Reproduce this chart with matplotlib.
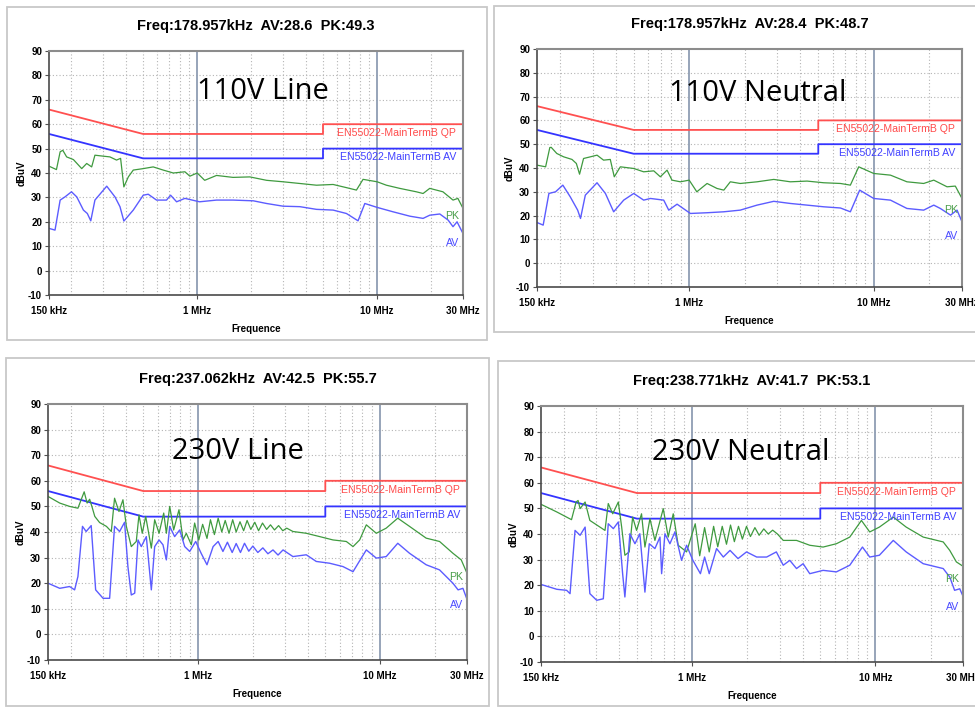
import matplotlib.pyplot as plt
from matplotlib.patches import Rectangle

# limit lines (EN55022 class B, mains terminal), MHz / dBuV
qp_f = [0.15, 0.5, 5, 5, 30]
qp_v = [66, 56, 56, 60, 60]
avlim_f = [0.15, 0.5, 5, 5, 30]
avlim_v = [56, 46, 46, 50, 50]

titles = ["Freq:178.957kHz  AV:28.6  PK:49.3",
          "Freq:178.957kHz  AV:28.4  PK:48.7",
          "Freq:237.062kHz  AV:42.5  PK:55.7",
          "Freq:238.771kHz  AV:41.7  PK:53.1"]
names = ["110V Line", "110V Neutral", "230V Line", "230V Neutral"]

# 110V Line
p1_pk_f = [0.15, 0.165, 0.173, 0.179, 0.188, 0.205, 0.228, 0.243, 0.259, 0.270, 0.300, 0.327,
           0.356, 0.375, 0.391, 0.414, 0.441, 0.501, 0.569, 0.647, 0.736, 0.854, 0.910, 1.0,
           1.10, 1.28, 1.58, 1.96, 2.43, 3.00, 3.72, 4.60, 5.69, 6.75, 7.67, 8.35, 10.0,
           11.25, 13.35, 16.5, 18.0, 19.6, 23.2, 26.4, 28.1, 30.0]
p1_pk_v = [42.8, 41.4, 48.7, 49.3, 46.6, 45.5, 41.8, 43.9, 42.5, 47.3, 46.9, 46.6,
           45.3, 46.0, 34.3, 38.4, 41.2, 41.8, 42.5, 41.2, 40.0, 40.5, 38.7, 40.0,
           37.0, 39.0, 38.2, 38.4, 37.0, 36.4, 35.7, 35.0, 35.3, 34.0, 33.0, 37.4, 36.4,
           35.0, 33.7, 32.3, 31.6, 33.7, 32.3, 28.9, 29.6, 25.5]
p1_av_f = [0.15, 0.162, 0.173, 0.184, 0.200, 0.214, 0.233, 0.245, 0.256, 0.270, 0.314, 0.349,
           0.372, 0.391, 0.441, 0.501, 0.534, 0.594, 0.675, 0.711, 0.768, 0.854, 1.03, 1.28,
           1.58, 2.05, 2.43, 3.00, 3.72, 4.60, 5.69, 6.75, 7.83, 8.54, 10.0, 12.25, 15.2,
           18.0, 19.6, 22.3, 24.8, 26.4, 27.8, 30.0]
p1_av_v = [17.3, 16.6, 28.9, 30.2, 32.3, 30.2, 24.8, 23.4, 20.4, 28.9, 34.6, 30.2,
           26.2, 20.3, 24.8, 30.9, 31.3, 28.9, 28.9, 30.9, 28.2, 29.6, 28.2, 28.9,
           28.9, 28.6, 27.5, 26.4, 26.2, 25.1, 24.8, 23.4, 20.4, 27.5, 25.9, 24.1, 22.3,
           21.4, 22.7, 23.2, 20.7, 18.0, 20.0, 15.2]

# 110V Neutral
p2_pk_f = [0.15, 0.167, 0.176, 0.179, 0.192, 0.209, 0.232, 0.245, 0.255, 0.268, 0.292, 0.317,
           0.344, 0.374, 0.393, 0.424, 0.501, 0.567, 0.643, 0.698, 0.759, 0.807, 0.896, 1.0,
           1.10, 1.25, 1.415, 1.54, 1.67, 1.89, 2.33, 2.87, 3.53, 4.35, 5.35, 6.59, 7.46,
           8.28, 9.98, 12.3, 15.1, 18.6, 21.1, 24.9, 27.6, 30.0]
p2_pk_v = [41.2, 40.5, 48.6, 48.7, 46.1, 44.7, 43.6, 41.9, 37.4, 44.0, 44.7, 45.4,
           43.3, 43.6, 36.3, 40.5, 39.8, 38.4, 38.8, 36.3, 39.1, 34.9, 34.2, 34.9,
           30.0, 33.5, 31.4, 30.7, 34.2, 33.5, 34.2, 35.2, 34.2, 34.5, 33.8, 33.5, 32.8,
           40.5, 37.7, 37.0, 34.2, 33.5, 34.9, 32.1, 32.4, 27.2]
p2_av_f = [0.15, 0.162, 0.174, 0.189, 0.207, 0.227, 0.249, 0.258, 0.274, 0.317, 0.352, 0.390,
           0.442, 0.501, 0.567, 0.617, 0.728, 0.775, 0.860, 1.015, 1.25, 1.54, 1.89, 2.33,
           2.87, 3.53, 4.35, 5.35, 6.59, 7.46, 8.38, 9.98, 12.3, 15.1, 18.6, 21.1, 22.9,
           26.0, 28.2, 30.0]
p2_av_v = [17.1, 16.0, 29.3, 30.0, 32.8, 27.9, 22.3, 18.8, 28.6, 33.8, 29.3, 21.6,
           26.5, 29.3, 26.5, 27.2, 26.5, 22.3, 24.8, 20.9, 21.2, 21.6, 22.3, 24.4,
           26.0, 25.1, 24.4, 23.7, 23.2, 21.6, 30.7, 27.2, 26.5, 23.0, 22.3, 24.4, 23.0,
           20.2, 22.3, 17.4]

# 230V Line
p3_pk_f = [0.15, 0.174, 0.197, 0.219, 0.237, 0.246, 0.254, 0.263, 0.271, 0.288, 0.314, 0.334,
           0.348, 0.368, 0.387, 0.404, 0.430, 0.458, 0.474, 0.494, 0.516, 0.554, 0.578, 0.611,
           0.648, 0.670, 0.699, 0.735, 0.786, 0.827, 0.862, 0.919, 0.958, 1.01, 1.06, 1.12,
           1.17, 1.23, 1.29, 1.35, 1.41, 1.48, 1.55, 1.62, 1.70, 1.78, 1.86, 1.95, 2.05,
           2.15, 2.26, 2.38, 2.50, 2.63, 2.77, 2.92, 3.07, 3.32, 3.93, 4.66, 5.51, 6.52,
           7.10, 7.72, 8.40, 9.53, 10.8, 12.5, 14.5, 17.9, 21.2, 25.1, 27.9, 30.0]
p3_pk_v = [53.9, 51.3, 50.0, 49.3, 55.7, 51.3, 52.8, 49.3, 46.1, 43.7, 42.2, 40.2,
           53.2, 48.0, 52.6, 42.2, 34.3, 36.3, 46.7, 39.5, 46.1, 33.7, 44.8, 39.5,
           47.4, 39.5, 50.0, 40.8, 48.7, 36.9, 39.5, 35.0, 43.5, 36.9, 43.0, 37.5,
           44.8, 39.0, 45.4, 40.0, 44.5, 39.5, 44.8, 40.0, 44.0, 40.5, 44.5, 41.0, 43.8,
           40.5, 43.5, 41.0, 42.8, 40.8, 42.5, 40.5, 41.5, 40.2, 39.5, 38.2, 36.9, 36.3,
           34.3, 36.9, 42.8, 39.5, 41.5, 45.4, 42.2, 37.6, 36.3, 31.7, 29.1, 23.9]
p3_av_f = [0.15, 0.174, 0.197, 0.210, 0.219, 0.232, 0.243, 0.259, 0.274, 0.301, 0.327, 0.348,
           0.371, 0.395, 0.412, 0.430, 0.449, 0.468, 0.488, 0.520, 0.554, 0.578, 0.611, 0.642,
           0.670, 0.699, 0.744, 0.793, 0.845, 0.900, 0.971, 1.04, 1.12, 1.21, 1.29, 1.37,
           1.45, 1.54, 1.62, 1.71, 1.80, 1.90, 2.00, 2.13, 2.27, 2.42, 2.58, 2.75, 2.93,
           3.32, 3.93, 4.46, 5.28, 6.25, 7.10, 7.88, 8.40, 9.53, 10.8, 12.5, 14.5, 17.9,
           21.2, 25.1, 26.8, 28.5, 30.0]
p3_av_v = [20.0, 18.0, 18.7, 17.4, 22.6, 42.2, 40.2, 42.5, 17.4, 14.1, 14.1, 42.2,
           40.2, 43.8, 26.5, 15.4, 16.1, 36.9, 34.3, 38.2, 17.4, 34.3, 36.9, 35.0,
           29.1, 42.2, 38.2, 40.8, 34.3, 32.4, 36.3, 31.7, 27.2, 34.3, 36.3, 32.4,
           36.0, 32.0, 35.5, 32.0, 35.6, 32.5, 34.5, 32.0, 33.8, 31.5, 33.0, 31.0, 33.0,
           30.4, 31.1, 28.5, 27.8, 26.5, 24.5, 29.8, 33.0, 29.8, 30.4, 35.6, 31.7, 27.2,
           25.2, 20.0, 17.4, 18.0, 13.7]

# 230V Neutral
p4_pk_f = [0.15, 0.183, 0.220, 0.233, 0.239, 0.245, 0.261, 0.277, 0.335, 0.349, 0.369, 0.396,
           0.413, 0.430, 0.454, 0.474, 0.498, 0.530, 0.553, 0.589, 0.627, 0.696, 0.741, 0.789,
           0.840, 0.933, 1.04, 1.10, 1.17, 1.24, 1.31, 1.38, 1.46, 1.54, 1.62, 1.70, 1.79,
           1.88, 1.98, 2.08, 2.20, 2.32, 2.46, 2.60, 2.75, 2.92, 3.14, 3.71, 4.38, 5.18,
           6.12, 7.24, 8.38, 9.30, 10.5, 12.5, 14.7, 18.2, 23.4, 25.4, 27.6, 30.0]
p4_pk_v = [51.6, 48.6, 45.6, 52.5, 53.1, 49.9, 52.5, 45.3, 41.4, 51.9, 47.9, 52.5,
           42.7, 31.7, 33.0, 46.6, 41.4, 47.9, 34.9, 46.0, 37.5, 49.9, 38.8, 47.9,
           35.6, 33.0, 44.0, 31.5, 42.5, 33.0, 43.0, 35.0, 43.0, 36.0, 43.5, 37.0, 43.0,
           38.0, 43.0, 39.0, 42.5, 39.5, 42.0, 40.0, 41.5, 40.0, 37.5, 37.5, 35.6, 34.9,
           36.2, 38.8, 45.3, 40.8, 42.7, 46.6, 42.7, 38.8, 36.9, 33.6, 29.1, 27.4]
p4_av_f = [0.15, 0.183, 0.207, 0.216, 0.230, 0.245, 0.261, 0.277, 0.302, 0.328, 0.349, 0.372,
           0.396, 0.418, 0.430, 0.458, 0.488, 0.519, 0.553, 0.584, 0.627, 0.668, 0.682, 0.711,
           0.757, 0.806, 0.876, 0.933, 1.01, 1.11, 1.17, 1.24, 1.36, 1.48, 1.61, 1.78, 1.98,
           2.25, 2.55, 2.88, 3.14, 3.41, 3.71, 4.03, 4.38, 5.18, 6.12, 7.24, 8.49, 9.30,
           10.5, 12.5, 14.7, 18.2, 23.4, 25.4, 27.0, 28.8, 30.0]
p4_av_v = [20.3, 18.4, 18.0, 16.7, 41.4, 39.5, 42.7, 16.7, 14.1, 14.7, 44.0, 42.1,
           44.7, 24.5, 15.4, 40.1, 36.2, 40.1, 17.3, 36.2, 34.3, 38.8, 24.5, 40.1,
           36.2, 40.8, 29.7, 35.6, 29.7, 24.5, 31.0, 24.5, 34.3, 31.0, 33.6, 30.4, 33.0,
           31.0, 31.0, 33.0, 27.8, 29.7, 26.5, 28.4, 24.5, 25.8, 25.2, 27.8, 34.9, 31.0,
           31.7, 37.5, 33.0, 28.4, 26.5, 23.2, 18.0, 18.6, 15.7]

pk_f = [p1_pk_f, p2_pk_f, p3_pk_f, p4_pk_f]
pk_v = [p1_pk_v, p2_pk_v, p3_pk_v, p4_pk_v]
av_f = [p1_av_f, p2_av_f, p3_av_f, p4_av_f]
av_v = [p1_av_v, p2_av_v, p3_av_v, p4_av_v]

W, H = 975, 707
fig = plt.figure(figsize=(W / 100, H / 100), dpi=100)
plt.rcParams['font.family'] = ['Liberation Sans', 'DejaVu Sans']
plt.rcParams['axes.unicode_minus'] = False

# pixel boxes: (left, top, right, bottom)
frames = [(7, 7, 487, 340), (494, 6, 976, 332), (6, 358, 489, 706), (498, 361, 976, 706)]
axboxes = [(49, 51, 463, 295), (537, 49, 962, 287), (48, 404, 467, 660), (541, 406, 963, 662)]
name_pos = [(0.517, 0.836), (0.52, 0.815), (0.453, 0.816), (0.474, 0.82)]

minor_f = [0.2, 0.3, 0.4, 0.5, 0.6, 0.7, 0.8, 0.9, 2, 3, 4, 5, 6, 7, 8, 9, 20]

for i in range(4):
    l, t, r, b = frames[i]
    fig.add_artist(Rectangle((l / W, 1 - b / H), (r - l) / W, (b - t) / H,
                             transform=fig.transFigure, fill=False,
                             edgecolor='#c8c8c8', lw=1.3))
    l, t, r, b = axboxes[i]
    ax = fig.add_axes([l / W, 1 - b / H, (r - l) / W, (b - t) / H])
    ax.set_xscale('log')
    ax.set_xlim(0.15, 30)
    ax.set_ylim(-10, 90)

    # grid
    for f in minor_f:
        ax.axvline(f, color='#b4b4b4', lw=0.8, ls=(0, (1, 2)), zorder=0)
    for y in range(0, 90, 10):
        ax.axhline(y, color='#b4b4b4', lw=0.8, ls=(0, (1, 2)), zorder=0)
    for f in [1, 10]:
        ax.axvline(f, color='#8f9db3', lw=1.3, zorder=0)

    ax.plot(qp_f, qp_v, color='#ff5050', lw=1.3)
    ax.plot(avlim_f, avlim_v, color='#3434ff', lw=1.3)
    ax.plot(pk_f[i], pk_v[i], color='#3f9a3f', lw=0.9)
    ax.plot(av_f[i], av_v[i], color='#5c5cff', lw=1.0)

    ax.text(27.5, 56.4, "EN55022-MainTermB QP", color='#ff4a4a', fontsize=7.6,
            ha='right', va='center')
    ax.text(27.5, 46.5, "EN55022-MainTermB AV", color='#4040ff', fontsize=7.6,
            ha='right', va='center')
    ax.text(28.5, 22.5, "PK", color='#4a9e4a', fontsize=7.6, ha='right', va='center')
    ax.text(28.5, 11.5, "AV", color='#4a4aff', fontsize=7.6, ha='right', va='center')

    ax.text(name_pos[i][0], name_pos[i][1], names[i], transform=ax.transAxes,
            family=['Open Sans', 'DejaVu Sans'], fontsize=21, ha='center', va='center')
    ax.set_title(titles[i], fontsize=10.5, fontweight='bold', pad=15)

    ax.set_xticks([0.15, 1, 10, 30])
    ax.set_xticklabels(['150 kHz', '1 MHz', '10 MHz', '30 MHz'])
    ax.minorticks_off()
    ax.set_yticks(range(-10, 91, 10))
    ax.tick_params(labelsize=7, length=3, color='#505050', pad=2)
    ax.tick_params(axis='x', pad=5)
    for lab in ax.get_xticklabels() + ax.get_yticklabels():
        lab.set_fontweight('bold')
    ax.set_xlabel("Frequence", fontsize=7, fontweight='bold', labelpad=6)
    ax.set_ylabel("dBuV", fontsize=7, fontweight='bold', labelpad=1)

    for s in ['left', 'bottom']:
        ax.spines[s].set_color('#4a4a4a')
        ax.spines[s].set_linewidth(1.2)
    for s in ['top', 'right']:
        ax.spines[s].set_color('#8c8c8c')
        ax.spines[s].set_linewidth(1.5)

fig.savefig('out.png', dpi=100)
